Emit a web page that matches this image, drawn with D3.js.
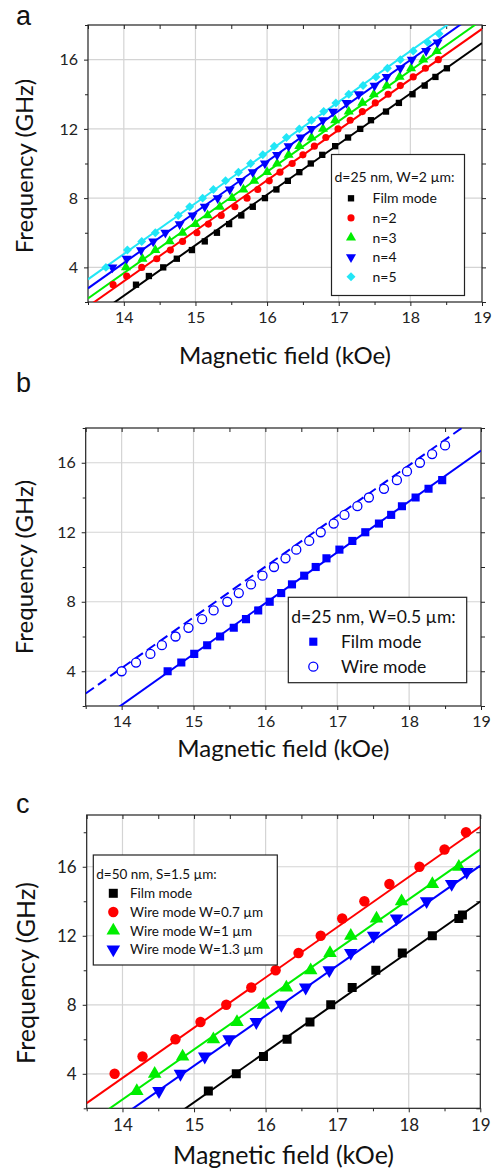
<!DOCTYPE html>
<html>
<head>
<meta charset="utf-8">
<script src="https://cdn.jsdelivr.net/npm/d3@7"></script>
<style>
  body { margin: 0; background: #fff; }
  svg { display: block; }
</style>
</head>
<body>
<svg id="chart" width="497" height="1174"></svg>
<script>
// ---- panel a : d=25 nm, W=2 um ----
const aFilmH = [14.17,14.35,14.55,14.74,14.95,15.13,15.30,15.47,15.64,15.80,15.97,16.13,16.29,16.45,16.61,16.77,16.95,17.13,17.30,17.45,17.66,17.84,18.03,18.20,18.35,18.51];
const aFilmF = [3,3.5,4,4.5,5,5.5,6,6.5,7,7.5,8,8.5,9,9.5,10,10.5,11,11.5,12,12.5,13,13.5,14,14.5,15,15.5];
const aN2H = [13.85,14.04,14.25,14.46,14.65,14.82,15.02,15.18,15.36,15.55,15.72,15.87,16.03,16.18,16.35,16.50,16.66,16.82,16.99,17.16,17.33,17.51,17.69,17.86,18.04,18.21,18.39];
const aN2F = [3,3.5,4,4.5,5,5.5,6,6.5,7,7.5,8,8.5,9,9.5,10,10.5,11,11.5,12,12.5,13,13.5,14,14.5,15,15.5,16];
const aN3H = [14.03,14.26,14.44,14.64,14.82,15.00,15.17,15.34,15.51,15.67,15.82,16.00,16.14,16.30,16.45,16.62,16.78,16.95,17.14,17.33,17.49,17.67,17.85,18.01,18.18,18.37];
const aN3F = [4,4.5,5,5.5,6,6.5,7,7.5,8,8.5,9,9.5,10,10.5,11,11.5,12,12.5,13,13.5,14,14.5,15,15.5,16,16.5];
const aN4H = [13.84,14.04,14.24,14.41,14.58,14.78,14.96,15.13,15.31,15.48,15.63,15.80,15.97,16.14,16.30,16.47,16.62,16.78,16.92,17.11,17.28,17.50,17.67,17.86,18.02,18.22,18.38];
const aN4F = [4,4.5,5,5.5,6,6.5,7,7.5,8,8.5,9,9.5,10,10.5,11,11.5,12,12.5,13,13.5,14,14.5,15,15.5,16,16.5,17];
const aN5H = [13.75,14.05,14.25,14.44,14.76,14.92,15.10,15.25,15.42,15.60,15.77,15.94,16.10,16.27,16.45,16.62,16.79,16.96,17.14,17.34,17.52,17.68,17.86,18.04,18.24,18.40];
const aN5F = [4,5,5.5,6,7,7.5,8,8.5,9,9.5,10,10.5,11,11.5,12,12.5,13,13.5,14,14.5,15,15.5,16,16.5,17,17.5];
// fit lines: [frequency at 13.5 kOe, slope GHz/kOe]
const aFits = [[0.90,2.92],[1.74,2.915],[2.21,2.924],[2.79,2.93],[3.31,2.93]];

// ---- panel b : d=25 nm, W=0.5 um ----
const bFilmH = [14.64,14.83,15.01,15.19,15.37,15.56,15.73,15.90,16.06,16.22,16.37,16.54,16.70,16.85,17.03,17.21,17.39,17.58,17.75,17.90,18.09,18.27,18.46];
const bFilmF = [4,4.5,5,5.5,6,6.5,7,7.5,8,8.5,9,9.5,10,10.5,11,11.5,12,12.5,13,13.5,14,14.5,15];
const bWireH = [14.00,14.20,14.40,14.56,14.75,14.93,15.12,15.28,15.47,15.63,15.80,15.96,16.12,16.28,16.43,16.61,16.77,16.95,17.10,17.28,17.44,17.65,17.83,17.97,18.15,18.32,18.50];
const bWireF = [4,4.5,5,5.5,6,6.5,7,7.5,8,8.5,9,9.5,10,10.5,11,11.5,12,12.5,13,13.5,14,14.5,15,15.5,16,16.5,17];
const bFits = [[0.59,2.93],[2.72,2.92]];

// ---- panel c : d=50 nm, S=1.5 um ----
const cFilmH = [15.20,15.59,15.97,16.30,16.62,16.91,17.21,17.54,17.91,18.33,18.70,18.75];
const cFilmF = [3,4,5,6,7,8,9,10,11,12,13,13.2];
const cW07H = [13.89,14.28,14.74,15.09,15.45,15.80,16.14,16.46,16.77,17.07,17.38,17.73,18.15,18.50,18.80];
const cW07F = [4,5,6,7,8,9,10,11,12,13,14,15,16,17,18];
const cW1H = [14.20,14.45,14.84,15.27,15.60,15.97,16.29,16.63,16.90,17.19,17.55,17.90,18.33,18.70];
const cW1F = [3,4,5,6,7,8,9,10,11,12,13,14,15,16];
const cW13H = [14.51,14.81,15.15,15.49,15.87,16.22,16.56,16.89,17.19,17.51,17.83,18.25,18.60,18.81];
const cW13F = [3,4,5,6,7,8,9,10,11,12,13,14,15,15.7];
const cFits = [[-2.02,2.91],[2.30,2.913],[1.06,2.90],[0.115,2.90]];

const xMajor = [14,15,16,17,18,19];
const xMinor = [13.5,14.5,15.5,16.5,17.5,18.5];
const yMajor = [4,8,12,16];
const yMinor = [2,6,10,14,18];

const FONT = "Lato, 'Open Sans', sans-serif";
const svg = d3.select("#chart");

const zip = (hs, fs) => hs.map((h, i) => ({h: h, f: fs[i]}));

function symbolPath(shape, size) {
    const type = shape === "circle" || shape === "ocircle" ? d3.symbolCircle
        : (shape === "up" || shape === "down") ? d3.symbolTriangle : d3.symbolSquare;
    return d3.symbol().type(type).size(size)();
}
function symbolRot(shape) {
    if (shape === "down") return " rotate(180)";
    if (shape === "diamond") return " rotate(45)";
    return "";
}

function drawPanel(p, id) {
    const x = d3.scaleLinear().domain([13.5, 19]).range([p.left, p.right]);
    const y = d3.scaleLinear().domain(p.yDomain).range([p.bottom, p.top]);
    const g = svg.append("g");

    g.append("clipPath").attr("id", "clip" + id)
        .append("rect").attr("x", p.left).attr("y", p.top)
        .attr("width", p.right - p.left).attr("height", p.bottom - p.top);

    // grid
    g.append("g").selectAll("line").data(xMajor.filter(v => v < 19)).join("line")
        .attr("x1", d => x(d)).attr("x2", d => x(d))
        .attr("y1", p.top).attr("y2", p.bottom)
        .attr("stroke", "#d4d4d4").attr("stroke-width", 1.2);
    g.append("g").selectAll("line").data(yMajor).join("line")
        .attr("y1", d => y(d)).attr("y2", d => y(d))
        .attr("x1", p.left).attr("x2", p.right)
        .attr("stroke", "#d4d4d4").attr("stroke-width", 1.2);

    // axes
    const style = sel => {
        sel.select(".domain").remove();
        sel.selectAll("line").attr("stroke", "#222");
        sel.selectAll("text").attr("font-family", FONT).attr("font-size", p.tickFont).attr("fill", "#222");
    };
    g.append("g").attr("transform", `translate(0,${p.bottom})`)
        .call(d3.axisBottom(x).tickValues(xMajor).tickSizeInner(4).tickSizeOuter(0).tickPadding(p.xPad).tickFormat(d3.format("d"))).call(style);
    g.append("g").attr("transform", `translate(0,${p.bottom})`)
        .call(d3.axisBottom(x).tickValues(xMinor).tickSize(3).tickFormat("")).call(style);
    g.append("g").attr("transform", `translate(${p.left},0)`)
        .call(d3.axisLeft(y).tickValues(yMajor).tickSizeInner(4).tickSizeOuter(0).tickPadding(6).tickFormat(d3.format("d"))).call(style);
    g.append("g").attr("transform", `translate(${p.left},0)`)
        .call(d3.axisLeft(y).tickValues(yMinor.filter(v => v <= p.yDomain[1])).tickSize(3).tickFormat("")).call(style);
    g.append("g").attr("transform", `translate(0,${p.top})`)
        .call(d3.axisTop(x).tickValues(xMajor.concat(xMinor)).tickSize(-4).tickFormat("")).call(style);
    g.append("g").attr("transform", `translate(${p.right},0)`)
        .call(d3.axisRight(y).tickValues(yMajor.concat(yMinor)).tickSize(p.rightOut ? 4 : -4).tickFormat("")).call(style);

    // frame
    g.append("rect").attr("x", p.left).attr("y", p.top)
        .attr("width", p.right - p.left).attr("height", p.bottom - p.top)
        .attr("fill", "none").attr("stroke", "#222").attr("stroke-width", 1.2);

    // fit lines
    const line = d3.line().x(d => x(d[0])).y(d => y(d[1]));
    const plot = g.append("g").attr("clip-path", `url(#clip${id})`);
    p.fits.forEach((ft, i) => {
        const pts = [13.5, 19].map(h => [h, ft[0] + ft[1] * (h - 13.5)]);
        plot.append("path").attr("d", line(pts))
            .attr("fill", "none").attr("stroke", p.series[i].color)
            .attr("stroke-width", 2)
            .attr("stroke-dasharray", p.series[i].dash || null);
    });

    // markers
    p.series.forEach(s => {
        plot.append("g").selectAll("path").data(zip(s.h, s.f)).join("path")
            .attr("transform", d => `translate(${x(d.h)},${y(d.f)})` + symbolRot(s.shape))
            .attr("d", symbolPath(s.shape, s.size))
            .attr("fill", s.shape === "ocircle" ? "#fff" : s.color)
            .attr("stroke", s.shape === "ocircle" ? s.color : "none")
            .attr("stroke-width", 1.3);
    });

    // panel letter
    g.append("text").attr("x", 16).attr("y", p.letterY).text(p.letter)
        .attr("font-family", "'Liberation Sans', Arial, sans-serif").attr("font-size", 27).attr("fill", "#111");

    // axis titles
    g.append("text").attr("x", (p.left + p.right) / 2).attr("y", p.xTitleY)
        .attr("text-anchor", "middle").attr("font-family", FONT).attr("font-size", p.titleFont).attr("fill", "#111")
        .text("Magnetic field (kOe)");
    g.append("text").attr("transform", `translate(${p.yTitleX},${p.yTitleC}) rotate(-90)`)
        .attr("text-anchor", "middle").attr("font-family", FONT).attr("font-size", p.titleFont).attr("fill", "#111")
        .text("Frequency (GHz)");

    // legend
    const L = p.legend;
    const lg = g.append("g");
    lg.append("rect").attr("x", L.x).attr("y", L.y).attr("width", L.w).attr("height", L.h)
        .attr("fill", "#fff").attr("stroke", "#222").attr("stroke-width", 1.2);
    lg.append("text").attr("x", L.x + 3).attr("y", L.titleY).text(L.title)
        .attr("font-family", FONT).attr("font-size", L.font).attr("fill", "#111");
    p.series.forEach((s, i) => {
        const cy = L.row0 + i * L.step;
        lg.append("path").attr("transform", `translate(${L.mx},${cy})` + symbolRot(s.shape))
            .attr("d", symbolPath(s.shape, s.size))
            .attr("fill", s.shape === "ocircle" ? "#fff" : s.color)
            .attr("stroke", s.shape === "ocircle" ? s.color : "none")
            .attr("stroke-width", 1.3);
        lg.append("text").attr("x", L.tx).attr("y", cy).attr("dy", "0.36em").text(s.name)
            .attr("font-family", FONT).attr("font-size", L.font).attr("fill", "#111");
    });
}

drawPanel({
    left: 88, right: 482, top: 25, bottom: 302, yDomain: [2, 18],
    letter: "a", letterY: 25, xTitleY: 364, yTitleX: 33, yTitleC: 166,
    tickFont: 16, titleFont: 24, xPad: 6, rightOut: true,
    fits: aFits,
    series: [
        {name: "Film mode", h: aFilmH, f: aFilmF, color: "#000000", shape: "square", size: 40},
        {name: "n=2", h: aN2H, f: aN2F, color: "#ff0000", shape: "circle", size: 40},
        {name: "n=3", h: aN3H, f: aN3F, color: "#00ee00", shape: "up", size: 44},
        {name: "n=4", h: aN4H, f: aN4F, color: "#0000ff", shape: "down", size: 44},
        {name: "n=5", h: aN5H, f: aN5F, color: "#22e6f6", shape: "diamond", size: 40}
    ],
    legend: {x: 331.5, y: 154.5, w: 133, h: 141, title: "d=25 nm, W=2 µm:", titleY: 182,
        font: 14, mx: 351, tx: 372.5, row0: 198.3, step: 19.6}
}, "a");

drawPanel({
    left: 85.7, right: 481, top: 428, bottom: 706, yDomain: [2, 18],
    letter: "b", letterY: 392, xTitleY: 757, yTitleX: 33, yTitleC: 567,
    tickFont: 16, titleFont: 24, xPad: 6, rightOut: true,
    fits: bFits,
    series: [
        {name: "Film mode", h: bFilmH, f: bFilmF, color: "#0000ff", shape: "square", size: 66},
        {name: "Wire mode", h: bWireH, f: bWireF, color: "#0000ff", shape: "ocircle", size: 64, dash: "10,5"}
    ],
    legend: {x: 288.3, y: 597.3, w: 178.4, h: 85.4, title: "d=25 nm, W=0.5 µm:", titleY: 623,
        font: 17.5, mx: 313.3, tx: 341, row0: 641.7, step: 25}
}, "b");

drawPanel({
    left: 86.7, right: 480.3, top: 815, bottom: 1108.3, yDomain: [2, 19],
    letter: "c", letterY: 813, xTitleY: 1164, yTitleX: 35, yTitleC: 973,
    tickFont: 17, titleFont: 25, xPad: 7, rightOut: false,
    fits: cFits,
    series: [
        {name: "Film mode", h: cFilmH, f: cFilmF, color: "#000000", shape: "square", size: 81},
        {name: "Wire mode W=0.7 µm", h: cW07H, f: cW07F, color: "#ff0000", shape: "circle", size: 85},
        {name: "Wire mode W=1 µm", h: cW1H, f: cW1F, color: "#00ee00", shape: "up", size: 80},
        {name: "Wire mode W=1.3 µm", h: cW13H, f: cW13F, color: "#0000ff", shape: "down", size: 80}
    ],
    legend: {x: 93.3, y: 855, w: 184, h: 110, title: "d=50 nm, S=1.5 µm:", titleY: 879,
        font: 13.5, mx: 113.3, tx: 130, row0: 893.3, step: 18.7}
}, "c");
</script>
</body>
</html>
